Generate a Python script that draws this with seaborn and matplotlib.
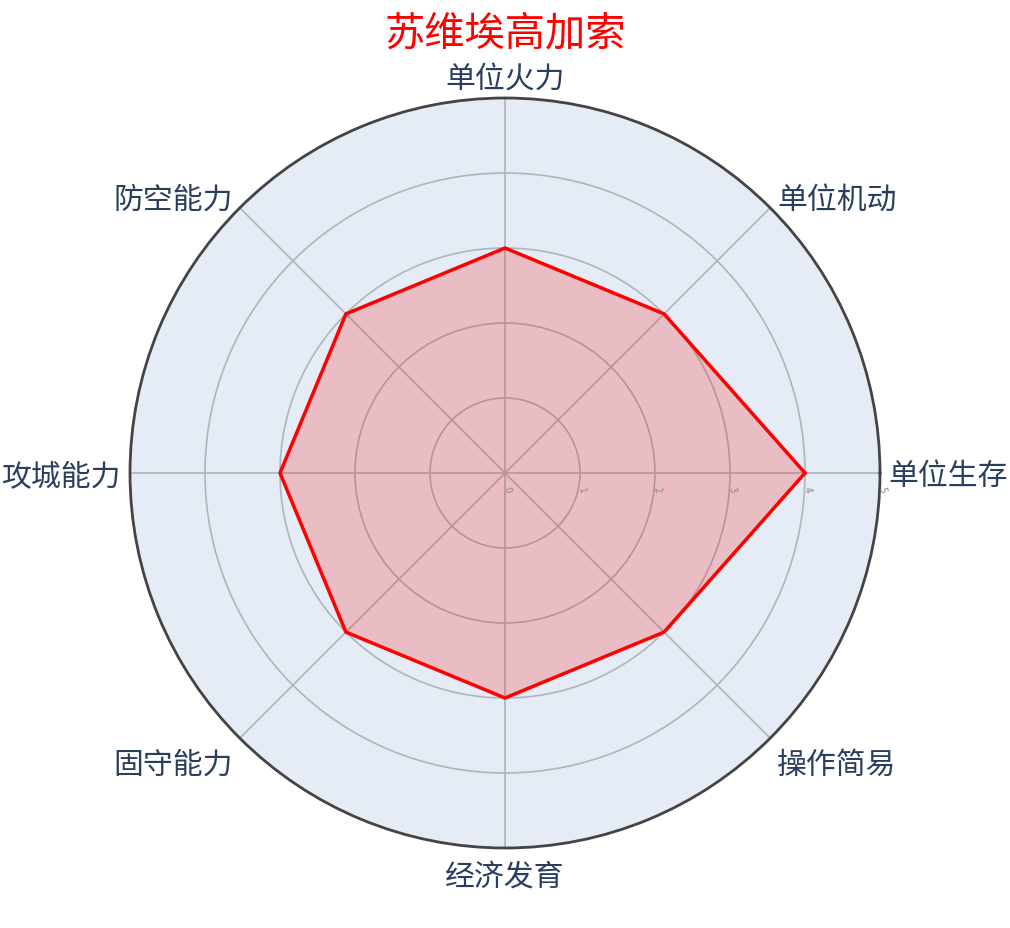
import numpy as np
import pandas as pd
import matplotlib
matplotlib.use("Agg")
import matplotlib.pyplot as plt
import seaborn as sns

title = "苏维埃高加索"
categories = ["单位生存", "单位机动", "单位火力", "防空能力", "攻城能力", "固守能力", "经济发育", "操作简易"]
values = [4, 3, 3, 3, 3, 3, 3, 3]
radial_ticks = [0, 1, 2, 3, 4, 5]

sns.set_style("white")
plt.rcParams['font.family'] = ['Noto Sans CJK SC', 'DejaVu Sans']

fig = plt.figure(figsize=(10.1, 9.29), dpi=100)
ax = fig.add_axes([130 / 1010, 80 / 929, 750 / 1010, 750 / 929], projection="polar")
ax.set_facecolor("#E5ECF6")

n = len(categories)
theta = np.arange(n) * 2 * np.pi / n
df = pd.DataFrame({"theta": np.append(theta, 2 * np.pi), "r": values + [values[0]]})

ax.fill(df["theta"], df["r"], color="red", alpha=0.2, zorder=2, lw=0)
sns.lineplot(data=df, x="theta", y="r", sort=False, color="red", lw=2.5, ax=ax, zorder=3)

ax.set_ylim(0, 5)
ax.set_xticks(theta)
ax.set_xticklabels([])
ax.set_yticks(radial_ticks)
ax.set_yticklabels([])
ax.grid(True, color="#b0b4bc", lw=1.2)
ax.spines["polar"].set_color("#444444")
ax.spines["polar"].set_linewidth(2)
ax.set_xlabel("")
ax.set_ylabel("")

px = 72 / 100  # points per pixel
rmax = radial_ticks[-1]
for th, lab in zip(theta, categories):
    c, s = np.cos(th), np.sin(th)
    if c > 0.1:
        ha, dx = "left", 7
    elif c < -0.1:
        ha, dx = "right", -7
    else:
        ha, dx = "center", 0
    if s > 0.1:
        dy = 12 if abs(c) > 0.1 else 22
    elif s < -0.1:
        dy = -23 if abs(c) > 0.1 else -25
    else:
        dy = 0
    if abs(c) > 0.9:
        dx = 8 if c > 0 else -9
    dy -= 3
    ax.annotate(lab, xy=(th, rmax), xytext=(dx * px, dy * px), textcoords="offset points",
                ha=ha, va="center", fontsize=21.5, color="#2a3f5f", annotation_clip=False)

for t in radial_ticks:
    ax.annotate(str(t), xy=(0, t), xytext=(2 * px, -16 * px), textcoords="offset points",
                ha="center", va="center", fontsize=7, color="#8a8a8a", rotation=-75,
                annotation_clip=False)

fig.text(505 / 1010, 1 - 34 / 929, title, color="red", fontsize=29, ha="center", va="center")

fig.savefig("out.png", dpi=100, facecolor="white")
